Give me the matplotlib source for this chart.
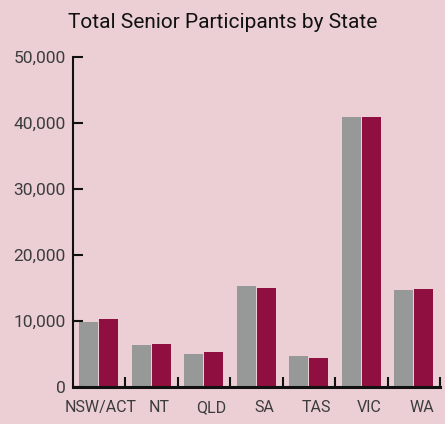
import numpy as np
import matplotlib
matplotlib.use("Agg")
import matplotlib.pyplot as plt
from matplotlib.ticker import FuncFormatter, FixedLocator

# values
states = ["NSW/ACT", "NT", "QLD", "SA", "TAS", "VIC", "WA"]
grey_vals = [9900, 6400, 5050, 15400, 4750, 40900, 14800]
maroon_vals = [10400, 6600, 5350, 15100, 4450, 40900, 14950]
y_ticks = [0, 10000, 20000, 30000, 40000, 50000]

bg = "#ebcfd5"
grey = "#979898"
maroon = "#8f1040"
text_col = "#3c3c3c"

plt.rcParams["font.family"] = ["Roboto", "DejaVu Sans"]

fig = plt.figure(figsize=(4.45, 4.24), dpi=100, facecolor=bg)
ax = fig.add_axes([72.5 / 445, 36.7 / 424, (440 - 72.5) / 445, 330 / 424])
ax.set_facecolor(bg)

x = np.arange(len(states))
w = 0.36
ax.bar(x - 0.19, grey_vals, width=w, color=grey, linewidth=0)
ax.bar(x + 0.19, maroon_vals, width=w, color=maroon, linewidth=0)

ax.set_xlim(-0.5, len(states) - 0.5)
ax.set_ylim(0, 50000)

# y axis
ax.yaxis.set_major_locator(FixedLocator(y_ticks))
ax.yaxis.set_major_formatter(FuncFormatter(lambda v, p: f"{int(v):,}"))
ax.tick_params(axis="y", direction="in", length=7, width=1.5, color="#111111",
               labelsize=12.5, labelcolor=text_col, pad=5)

# x axis: labels centred, tick marks at category boundaries
label_pos = x + 0.15
label_pos[0] = 0.04  # the wide first label sits nearer the centre
ax.set_xticks(label_pos)
ax.set_xticklabels(states)
ax.tick_params(axis="x", which="major", length=0, labelsize=11.5,
               labelcolor=text_col, pad=9)
ax.set_xticks(np.arange(0.5, len(states), 1.0), minor=True)
ax.tick_params(axis="x", which="minor", direction="in", length=7, width=1.5,
               color="#111111")

for side in ["top", "right"]:
    ax.spines[side].set_visible(False)
ax.spines["left"].set_linewidth(1.5)
ax.spines["left"].set_color("#111111")
ax.spines["bottom"].set_linewidth(2.2)
ax.spines["bottom"].set_color("#111111")

fig.text(0.5, 1 - 22 / 424, "Total Senior Participants by State",
         ha="center", va="center", fontsize=15, color="#111111")

fig.savefig("out.png", dpi=100, facecolor=bg)
